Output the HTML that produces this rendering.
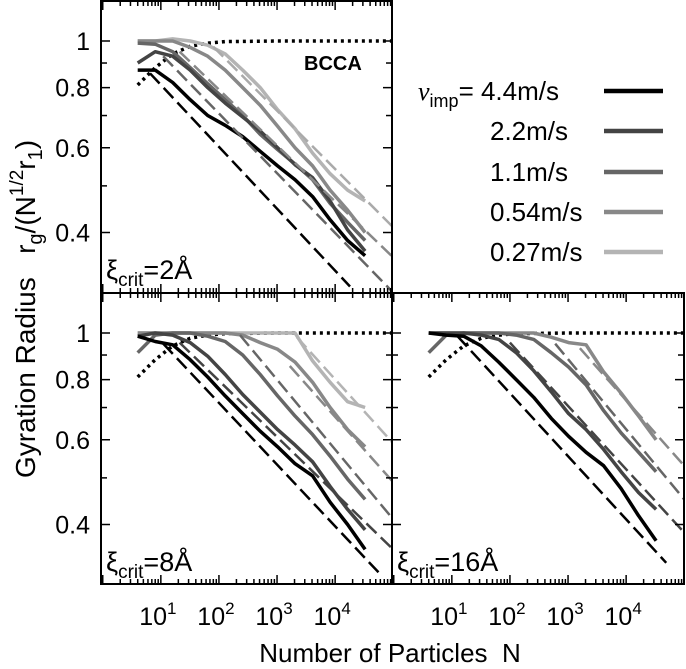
<!DOCTYPE html>
<html><head><meta charset="utf-8"><style>
html,body{margin:0;padding:0;background:#fff;}
svg{display:block;font-family:"Liberation Sans",sans-serif;}
</style></head><body>
<svg id="chart" width="686" height="669" viewBox="0 0 686 669" xmlns="http://www.w3.org/2000/svg">
<defs>
<clipPath id="clipTL"><rect x="101" y="1" width="291" height="292"/></clipPath>
<clipPath id="clipBL"><rect x="101" y="293" width="291" height="291"/></clipPath>
<clipPath id="clipBR"><rect x="392" y="293" width="292" height="291"/></clipPath>
</defs>
<g id="layer"></g>
<text transform="translate(35,478) rotate(-90)" text-anchor="start" font-size="28" xml:space="preserve">Gyration Radius   r<tspan font-size="20" dy="7">g</tspan><tspan dy="-7">/(N</tspan><tspan font-size="19" dy="-12">1/2</tspan><tspan dy="12">r</tspan><tspan font-size="20" dy="7">1</tspan><tspan dy="-7">)</tspan></text>
<text x="390" y="662" text-anchor="middle" font-size="26" xml:space="preserve">Number of Particles  N</text>
<text x="304" y="70" font-size="20" font-weight="bold">BCCA</text>
<text x="106" y="279" font-size="27">ξ<tspan font-size="19" dy="7">crit</tspan><tspan dy="-7">=2Å</tspan></text>
<text x="106" y="571" font-size="27">ξ<tspan font-size="19" dy="7">crit</tspan><tspan dy="-7">=8Å</tspan></text>
<text x="397" y="571" font-size="27">ξ<tspan font-size="19" dy="7">crit</tspan><tspan dy="-7">=16Å</tspan></text>
<g>
<text x="418" y="100" font-size="26"><tspan font-family="Liberation Serif" font-style="italic">v</tspan><tspan font-size="18" dy="7">imp</tspan><tspan dy="-7">= 4.4m/s</tspan></text>
<text x="490" y="140" font-size="26">2.2m/s</text>
<text x="490" y="181" font-size="26">1.1m/s</text>
<text x="490" y="221" font-size="26">0.54m/s</text>
<text x="490" y="261" font-size="26">0.27m/s</text>
<line x1="604" y1="91" x2="663" y2="91" stroke="#000" stroke-width="4.5"/>
<line x1="604" y1="131" x2="663" y2="131" stroke="#444" stroke-width="4.5"/>
<line x1="604" y1="172" x2="663" y2="172" stroke="#666" stroke-width="4.5"/>
<line x1="604" y1="212" x2="663" y2="212" stroke="#888" stroke-width="4.5"/>
<line x1="604" y1="252" x2="663" y2="252" stroke="#b4b4b4" stroke-width="4.5"/>
</g>
</svg>
<script>
// ---- data ----
const particleCounts = [4,8,16,32,64,128,256,512,1024,2048,4096,8192,16384,32768];
const colors = ["#000","#444","#666","#888","#b4b4b4"];
const velocityLabels = ["4.4","2.2","1.1","0.54","0.27"];
const bccaN = [4,8,16,32,64,128,1000,10000,100000];
const bccaV = [0.81,0.88,0.94,0.975,0.99,0.997,1.0,1.0,1.0];
// xi = 2A
const p2_v44 = [0.87,0.87,0.82,0.755,0.70,0.668,0.633,0.59,0.55,0.515,0.475,0.425,0.385,0.358];
const p2_v22 = [0.90,0.95,0.93,0.87,0.80,0.743,0.695,0.65,0.60,0.553,0.52,0.465,0.405,0.366];
const p2_v11 = [0.99,0.985,0.95,0.88,0.815,0.755,0.70,0.64,0.595,0.555,0.515,0.46,0.42,0.385];
const p2_v054 = [1.0,1.0,1.0,0.97,0.93,0.87,0.80,0.735,0.665,0.60,0.55,0.49,0.445,0.40];
const p2_v027 = [1.0,1.0,1.01,1.0,0.98,0.94,0.87,0.80,0.72,0.657,0.585,0.53,0.49,0.465];
const p2_fitN = [[6.5,18000],[11,100000],[21,100000],[80,100000]];
const p2_fitV = [[0.857,0.309],[0.93,0.30],[0.95,0.355],[0.973,0.41]];
// xi = 8A
const p8_v44 = [0.985,0.96,0.945,0.88,0.81,0.74,0.68,0.625,0.58,0.535,0.505,0.445,0.40,0.355];
const p8_v22 = [0.985,1.0,0.99,0.955,0.895,0.82,0.745,0.685,0.63,0.585,0.54,0.48,0.43,0.39];
const p8_v11 = [0.91,0.99,1.0,1.0,0.985,0.96,0.90,0.82,0.74,0.672,0.615,0.555,0.497,0.451];
const p8_v054 = [1.0,1.0,1.0,1.0,1.0,1.0,0.99,0.955,0.925,0.87,0.79,0.70,0.63,0.58];
const p8_v027 = [1.0,1.0,1.0,1.0,1.0,1.0,1.0,1.0,1.0,1.0,0.875,0.79,0.72,0.70];
const p8_fitN = [[11,59000],[21,100000],[230,100000],[1660,100000],[2200,100000]];
const p8_fitV = [[0.95,0.316],[0.955,0.355],[0.99,0.41],[0.854,0.49],[0.98,0.59]];
// xi = 16A
const p16_v44 = [1.0,0.99,0.985,0.94,0.87,0.80,0.735,0.665,0.61,0.565,0.53,0.475,0.417,0.37];
const p16_v22 = [1.0,1.0,1.0,0.99,0.97,0.91,0.835,0.755,0.68,0.63,0.573,0.515,0.466,0.43];
const p16_v11 = [0.91,0.99,1.0,1.0,1.0,0.99,0.97,0.91,0.85,0.78,0.69,0.62,0.565,0.515];
const p16_v054 = [1.0,1.0,1.0,1.0,1.0,1.0,1.0,0.98,0.955,0.945,0.83,0.75,0.672,0.60];
const p16_fitN = [[12.5,49000],[100,100000],[600,100000],[1600,100000]];
const p16_fitV = [[0.985,0.333],[0.955,0.385],[0.95,0.451],[0.93,0.53]];
const yTicks = [1,0.8,0.6,0.4];
const yTickLabels = ["1","0.8","0.6","0.4"];
const yMinor = [0.9,0.7,0.5,0.3];
const xTicks = [10,100,1000,10000];
const xTickExp = ["1","2","3","4"];

// ---- axes ----
const NS="http://www.w3.org/2000/svg";
const layer=document.getElementById('layer');
function el(tag,attrs,parent){const e=document.createElementNS(NS,tag);for(const k in attrs)e.setAttribute(k,attrs[k]);(parent||layer).appendChild(e);return e;}
function xScale(p,n){return p.x0+(Math.log10(n)+0.03)*58.1;}
function yScale(p,v){return p.y0+40-209*Math.log(v);}

const panels=[
 {id:"TL",x0:101,y0:1,clip:"clipTL",series:[p2_v44,p2_v22,p2_v11,p2_v054,p2_v027],fitN:p2_fitN,fitV:p2_fitV,fitC:["#000","#666","#888","#aaa"],labels:true,xlabels:false},
 {id:"BL",x0:101,y0:293,clip:"clipBL",series:[p8_v44,p8_v22,p8_v11,p8_v054,p8_v027],fitN:p8_fitN,fitV:p8_fitV,fitC:["#000","#444","#666","#888","#b4b4b4"],labels:true,xlabels:true},
 {id:"BR",x0:392,y0:293,clip:"clipBR",series:[p16_v44,p16_v22,p16_v11,p16_v054],fitN:p16_fitN,fitV:p16_fitV,fitC:["#000","#444","#666","#888"],labels:false,xlabels:true}
];

panels.forEach(p=>{
  const g=el('g',{'clip-path':'url(#'+p.clip+')'});
  
  
  let d=bccaN.map((n,i)=>(i?'L':'M')+xScale(p,n).toFixed(1)+' '+yScale(p,bccaV[i]).toFixed(1)).join(' ');
  const dot=el('path',{d:d,fill:'none',stroke:'#000','stroke-width':3.5,'stroke-dasharray':'3 4'},g);
  
  
  for(let s=p.series.length-1;s>=0;s--){
    const vals=p.series[s];
    const dd=particleCounts.map((n,i)=>(i?'L':'M')+xScale(p,n).toFixed(1)+' '+yScale(p,vals[i]).toFixed(1)).join(' ');
    const path=el('path',{d:dd,fill:'none',stroke:colors[s],'stroke-width':3.5,'stroke-linejoin':'round'},g);
    
    
  }
  p.fitN.forEach((ns,i)=>{
    const vs=p.fitV[i];
    const dd='M'+xScale(p,ns[0]).toFixed(1)+' '+yScale(p,vs[0]).toFixed(1)+' L'+xScale(p,ns[1]).toFixed(1)+' '+yScale(p,vs[1]).toFixed(1);
    const f=el('path',{d:dd,fill:'none',stroke:p.fitC[i],'stroke-width':2.5,'stroke-dasharray':'14 6'},g);
    
    
  });
  const w=(p.id==="BR")?292:291, h=292;
  const fr=el('rect',{x:p.x0,y:p.y0,width:w,height:h-(p.id==="TL"?0:1),fill:'none',stroke:'#000','stroke-width':2});
  
  
  const tg=el('g',{stroke:'#000','stroke-width':1.5});
  
  
  const right=p.x0+w, bottom=p.y0+h-(p.id==="TL"?0:1);
  yTicks.forEach((v,i)=>{
    const y=yScale(p,v);
    el('line',{x1:p.x0,y1:y,x2:p.x0+9,y2:y},tg);
    el('line',{x1:right-9,y1:y,x2:right,y2:y},tg);
    if(p.labels){
      const t=el('text',{x:p.x0-11,y:y+9,'text-anchor':'end','font-size':25,fill:'#000'});
      t.textContent=yTickLabels[i];
      
      
    }
  });
  yMinor.forEach(v=>{
    const y=yScale(p,v);
    if(y>p.y0+2&&y<bottom-2){
      el('line',{x1:p.x0,y1:y,x2:p.x0+6,y2:y},tg);
      el('line',{x1:right-6,y1:y,x2:right,y2:y},tg);
    }
  });
  for(let e=0;e<=4;e++){
    for(let m=1;m<=9;m++){
      const n=m*Math.pow(10,e);
      const x=xScale(p,n);
      if(x<=p.x0+1||x>=right-1)continue;
      const L=(m===1)?9:5;
      el('line',{x1:x,y1:bottom,x2:x,y2:bottom-L},tg);
      el('line',{x1:x,y1:p.y0,x2:x,y2:p.y0+L},tg);
    }
  }
  if(p.xlabels){
    xTicks.forEach((n,i)=>{
      const x=xScale(p,n);
      const t=el('text',{x:x-3,y:bottom+41,'text-anchor':'middle','font-size':25,fill:'#000'});
      
      
      t.appendChild(document.createTextNode('10'));
      const sup=el('tspan',{'font-size':17,dy:-11},t);
      sup.textContent=xTickExp[i];
    });
  }
});
</script>
</body></html>
